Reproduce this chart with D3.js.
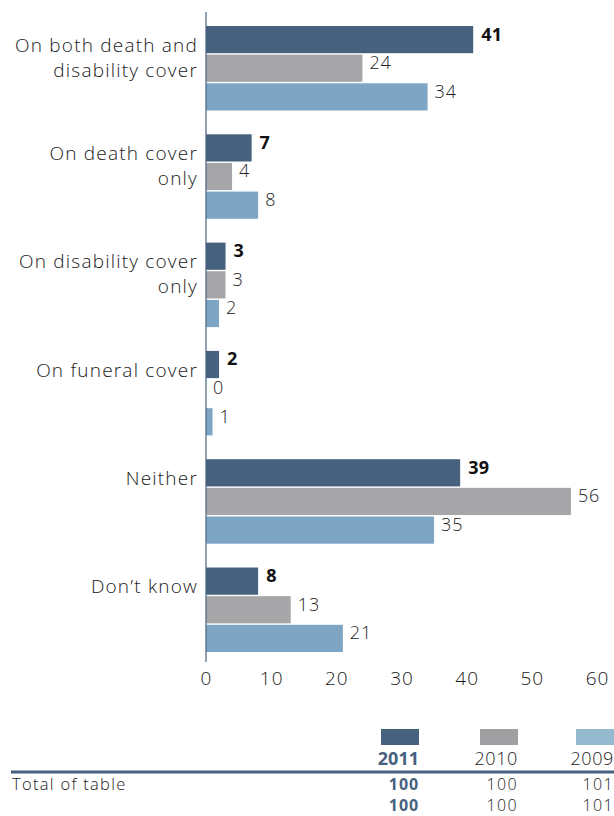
<!DOCTYPE html>
<html><head><meta charset="utf-8">
<script src="https://cdn.jsdelivr.net/npm/d3@7"></script>
<style>
body{margin:0;background:#fff;}
svg{display:block;font-family:"Open Sans",Lato,sans-serif;}
</style></head>
<body><svg id="c" width="614" height="816"></svg>
<script>
const categories = [["On both death and","disability cover"],["On death cover","only"],["On disability cover","only"],["On funeral cover"],["Neither"],["Don’t know"]];
const catKeys = ["both","death","disability","funeral","neither","dontknow"];
const series = ["2011","2010","2009"];
const values2011 = [41,7,3,2,39,8];
const values2010 = [24,4,3,0,56,13];
const values2009 = [34,8,2,1,35,21];
const xTicks = [0,10,20,30,40,50,60];
const totals2011 = [100,100];
const totals2010 = [100,100];
const totals2009 = [101,101];
const tableLabels = ["Total of table",""];

const barColors = {"2011":"#46627f","2010":"#a6a6a8","2009":"#7fa5c4"};
const swatchColors = {"2011":"#46627f","2010":"#a0a0a2","2009":"#95b9cf"};
const allVals = {"2011":values2011,"2010":values2010,"2009":values2009};
const FONT = "'Open Sans',Lato,sans-serif";

const svg = d3.select("#c");
const x = d3.scaleLinear().domain([0,60]).range([206,597]);
const y0 = d3.scaleBand().domain(catKeys).range([26,652]).paddingInner(0.22).paddingOuter(0);
const y1 = d3.scaleBand().domain(series).range([0,y0.bandwidth()]).paddingInner(0.05);

const g = svg.append("g");
catKeys.forEach((k,i)=>{
  const gg = g.append("g").attr("transform",`translate(0,${y0(k)})`);
  series.forEach(s=>{
    const v = allVals[s][i];
    gg.append("rect").attr("x",x(0)).attr("y",y1(s)).attr("width",x(v)-x(0)).attr("height",y1.bandwidth()).attr("fill",barColors[s]);
    gg.append("text").attr("x",x(v)+ (s==="2011"?8:7)).attr("y",y1(s)+y1.bandwidth()/2).attr("dy","0.05em")
      .attr("font-size",18).attr("font-weight",s==="2011"?700:300).attr("fill",s==="2011"?"#111":"#222")
      .attr("letter-spacing",s==="2011"?0.3:0.9).text(v);
  });
  const lines = categories[i];
  lines.forEach((ln,j)=>{
    g.append("text").attr("x",198).attr("y",y0(k)+19+j*25).attr("dy","0.35em").attr("text-anchor","end")
     .attr("font-size",19).attr("font-weight",300).attr("fill","#1a1a1a").attr("letter-spacing",1.2).text(ln);
  });
});

// axis line
svg.append("line").attr("x1",x(0)).attr("x2",x(0)).attr("y1",12).attr("y2",662).attr("stroke","#46627f").attr("stroke-width",1.2);
// x axis labels via d3 axis
const ax = svg.append("g").attr("transform","translate(0,671)").call(d3.axisBottom(x).tickValues(xTicks).tickSize(0).tickPadding(0));
ax.select(".domain").remove();
ax.selectAll("text").attr("font-size",19).attr("font-weight",300).attr("fill","#1a1a1a").attr("dy","0.72em").attr("letter-spacing",1).attr("font-family",FONT);

// legend table
const colRight = {"2011":419,"2010":518,"2009":614};
const swW = 38;
series.forEach(s=>{
  svg.append("rect").attr("x",colRight[s]-swW).attr("y",729).attr("width",swW).attr("height",16).attr("fill",swatchColors[s]);
  svg.append("text").attr("x",colRight[s]).attr("y",759).attr("dy","0.35em").attr("text-anchor","end")
    .attr("font-size",18).attr("font-weight",s==="2011"?700:300).attr("fill",s==="2011"?"#46627f":"#222")
    .attr("letter-spacing",s==="2011"?0:0.6).text(s);
});
svg.append("line").attr("x1",11).attr("x2",614).attr("y1",772).attr("y2",772).attr("stroke","#46627f").attr("stroke-width",3);
const totals = {"2011":totals2011,"2010":totals2010,"2009":totals2009};
const rowBase = [789.5, 811];
[0,1].forEach(r=>{
  const yy = rowBase[r];
  if(tableLabels[r]) svg.append("text").attr("x",12).attr("y",yy).attr("font-size",16.5).attr("font-weight",300).attr("fill","#222").attr("letter-spacing",1.3).text(tableLabels[r]);
  series.forEach(s=>{
    svg.append("text").attr("x",colRight[s]).attr("y",yy).attr("text-anchor","end")
      .attr("font-size",16).attr("font-weight",s==="2011"?700:300).attr("fill",s==="2011"?"#46627f":"#222")
      .attr("letter-spacing",s==="2011"?0.9:1.4).text(totals[s][r]);
  });
});
</script></body></html>
